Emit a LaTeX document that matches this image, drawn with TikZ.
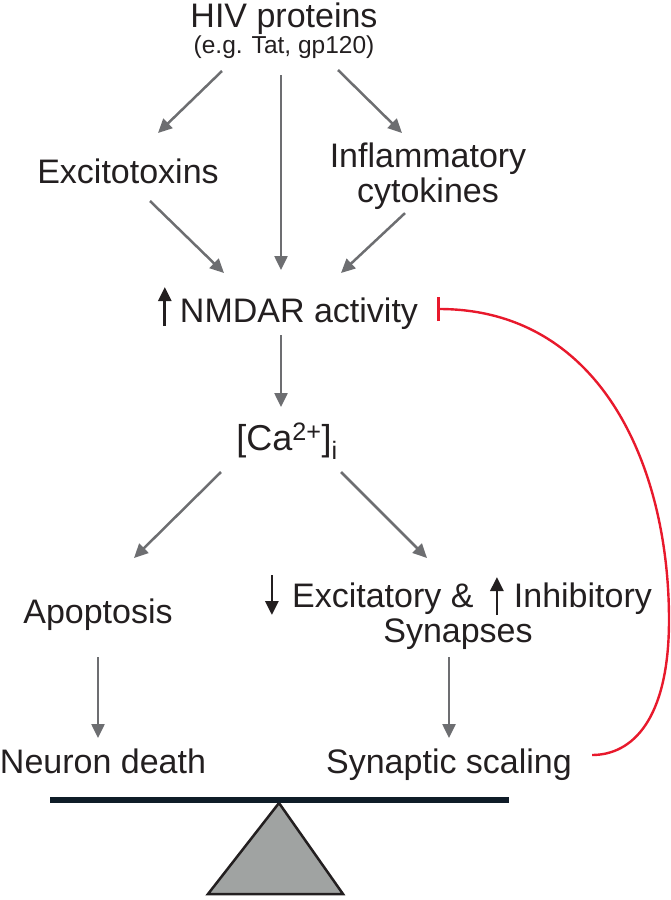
\documentclass[tikz,border=0pt]{standalone}
\usepackage{fontspec}
\setmainfont{Liberation Sans}
\usepackage{tikz}
\usetikzlibrary{arrows.meta}
\definecolor{txtgray}{HTML}{231F20}
\definecolor{arrgray}{HTML}{6D6E71}
\definecolor{inhred}{HTML}{E8192C}
\definecolor{beamblue}{HTML}{0F1C28}
\definecolor{fulcrumgray}{HTML}{A0A3A2}

\begin{document}
\begin{tikzpicture}[x=1pt,y=-1pt,
  lbl/.style={inner sep=0pt, anchor=base, text=txtgray, font=\fontsize{34}{35}\selectfont},
  flow/.style={arrgray, line width=2.5pt, -{Triangle[length=14pt,width=13pt]}},
  updown/.style={txtgray, line width=2.8pt, -{Triangle[length=14pt,width=13pt]}},
  inhibit/.style={inhred, line width=2.4pt, -{Bar[width=24pt]}}]
\useasboundingbox (0,0) rectangle (670,900);
\node[lbl] (hiv) at (284,27) {HIV proteins};
\node[lbl, font=\fontsize{24.5}{26}\selectfont] (eg) at (284,53) {(e.g. Tat, gp120)};
\node[lbl] (excito) at (128,183) {Excitotoxins};
\node[lbl, anchor=north, align=center] (inflam) at (428,143) {Inflammatory\\cytokines};
\node[lbl] (nmdar) at (299,322) {NMDAR activity};
\draw[updown] ([shift={(-15,4)}]nmdar.base west) -- ++(0,-39);
\node[lbl, font=\fontsize{36}{38}\selectfont] (calcium) at (287,450) {[Ca\textsuperscript{2+}]\textsubscript{i}};
\node[lbl] (apop) at (98,623) {Apoptosis};
\node[lbl, anchor=north, align=center] (synap) at (458,583) {\hspace*{28pt}Excitatory \& \hspace{31pt}Inhibitory\\Synapses};
\draw[updown] ([shift={(8,-8)}]synap.north west) -- ++(0,40);
\draw[updown] ([shift={(233,32)}]synap.north west) -- ++(0,-38);
\node[lbl] (death) at (103,773) {Neuron death};
\node[lbl] (scaling) at (449,773) {Synaptic scaling};
\draw[flow] ([shift={(-62,18)}]eg.base) -- ([shift={(30,-50)}]excito.base);
\draw[flow] ([shift={(-3,22)}]eg.base) -- ([shift={(-18,-52)}]nmdar.base);
\draw[flow] ([shift={(54,17)}]eg.base) -- ([shift={(-26,-10)}]inflam.north);
\draw[flow] ([shift={(22,18)}]excito.base) -- ([shift={(-75,-49)}]nmdar.base);
\draw[flow] ([shift={(-23,3)}]inflam.south) -- ([shift={(42,-49)}]nmdar.base);
\draw[flow] ([shift={(-18,13)}]nmdar.base) -- ([shift={(-6,-43)}]calcium.base);
\draw[flow] ([shift={(-66,22)}]calcium.base) -- ([shift={(36,-65)}]apop.base);
\draw[flow] ([shift={(54,22)}]calcium.base) -- ([shift={(-31,-25)}]synap.north);
\draw[flow] ([shift={(0,34)}]apop.base) -- ([shift={(-5,-35)}]death.base);
\draw[flow] ([shift={(-9,7)}]synap.south) -- ([shift={(0,-35)}]scaling.base);
\coordinate (turn) at (669,620);
\draw[inhibit] ([shift={(20,-18)}]scaling.base east) .. controls (632,755) and (669,720) .. (turn) .. controls (669,465) and (600,309) .. ([shift={(19,-13)}]nmdar.base east);
\filldraw[fill=fulcrumgray, draw=txtgray, line width=2.5pt] (279,803) -- (208,894) -- (343,894) -- cycle;
\draw[beamblue, line width=6pt] (50,800) -- (509,800);
\end{tikzpicture}
\end{document}
